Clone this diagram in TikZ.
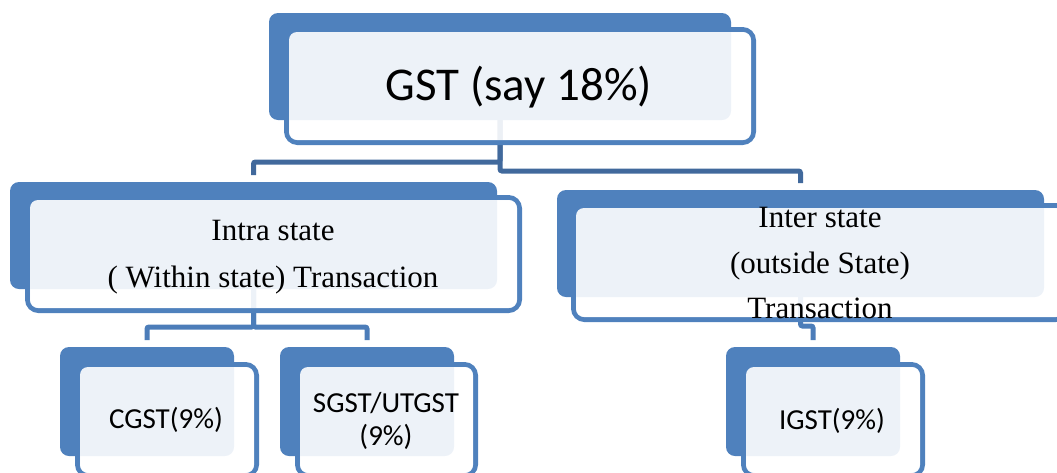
\documentclass[tikz,border=0pt]{standalone}
\usepackage{fontspec}
\setmainfont{Liberation Serif}
\newfontfamily\calib{Carlito}
\pgfdeclarelayer{bg}
\pgfsetlayers{bg,main}
\definecolor{sablue}{HTML}{4F81BD}
\definecolor{conndark}{HTML}{41699C}
\definecolor{connlight}{HTML}{4C7DB9}
\newcommand\lbx[9]{%
  \pgfmathsetmacro\LBbcx{(#2+#4)/2}\pgfmathsetmacro\LBbcy{(#3+#5)/2}%
  \pgfmathsetmacro\LBbw{#4-#2}\pgfmathsetmacro\LBbh{#5-#3}%
  \pgfmathsetmacro\LBfcx{(#6+#8)/2}\pgfmathsetmacro\LBfcy{(#7+#9)/2}%
  \pgfmathsetmacro\LBfw{#8-#6}\pgfmathsetmacro\LBfh{#9-#7}%
  \node[frontline, minimum width=\LBfw pt-5pt, minimum height=\LBfh pt-5pt] (#1) at (\LBfcx,\LBfcy) {};
  \node[backbox, minimum width=\LBbw pt, minimum height=\LBbh pt] (#1back) at (\LBbcx,\LBbcy) {};
  \node[frontfill, minimum width=\LBfw pt-10pt, minimum height=\LBfh pt-10pt] (#1fill) at (\LBfcx,\LBfcy) {};
}
\begin{document}
\begin{tikzpicture}[x=1pt,y=-1pt,
  backbox/.style={fill=sablue, rounded corners=9pt, inner sep=0pt, outer sep=0pt, draw=none},
  frontline/.style={draw=sablue, line width=5pt, rounded corners=11pt, inner sep=0pt, outer sep=0pt},
  frontfill/.style={fill=white, fill opacity=0.9, rounded corners=8pt, inner sep=0pt, outer sep=0pt},
  conn/.style={line width=5pt, rounded corners=2pt},
  topconn/.style={conn, draw=conndark},
  lowconn/.style={conn, draw=connlight},
  bigtxt/.style={font=\calib\fontsize{47}{52}\selectfont, anchor=base, inner sep=0pt},
  sertxt/.style={font=\fontsize{31}{36}\selectfont, anchor=base, inner sep=0pt},
  smalltxt/.style={font=\calib\fontsize{29}{34}\selectfont, anchor=base, inner sep=0pt}]
\useasboundingbox (0,0) rectangle (1057,472);
\clip (0,0) rectangle (1057,472);

\lbx{gst}{269}{13}{731}{120}{284}{27}{756}{145}
\lbx{intra}{10}{182}{497}{289}{25}{195}{522}{313}
\lbx{inter}{557}{190}{1044}{297}{571}{203}{1069}{322}
\lbx{cgst}{60}{347}{234}{456}{75}{362}{259}{478}
\lbx{sgst}{280}{347}{454}{456}{295}{362}{478}{478}
\lbx{igst}{726}{347}{900}{456}{741}{362}{925}{478}

\node[bigtxt] (gsttxt) at (519,100) {GST (say 18\%)};
\node[sertxt] (intratxt1) at (273,240) {Intra state};
\node[sertxt] (intratxt2) at (273,287) {( Within state) Transaction};
\node[sertxt] (intertxt1) at (820,227) {Inter state};
\node[sertxt] (intertxt2) at (820,273) {(outside State)};
\node[sertxt] (intertxt3) at (820,318) {Transaction};
\node[smalltxt] (cgsttxt) at (166,428) {CGST(9\%)};
\node[smalltxt] (sgsttxt1) at (386,412) {SGST/UTGST};
\node[smalltxt] (sgsttxt2) at (386,445) {(9\%)};
\node[smalltxt] (igsttxt) at (832,429) {IGST(9\%)};

\begin{pgfonlayer}{bg}
\draw[topconn] (gstback.south) -- ++(0,42) -| ([yshift=7pt]intraback.north);
\draw[topconn] (gstback.south) -- ++(0,51) -| ([yshift=7pt]interback.north);
\draw[lowconn] (intraback.south) -- ++(0,38) -| ([yshift=7pt]cgstback.north);
\draw[lowconn] (intraback.south) -- ++(0,38) -| ([yshift=7pt]sgstback.north);
\draw[lowconn] (interback.south) -- ++(0,29) -| ([yshift=7pt]igstback.north);
\end{pgfonlayer}
\end{tikzpicture}
\end{document}
